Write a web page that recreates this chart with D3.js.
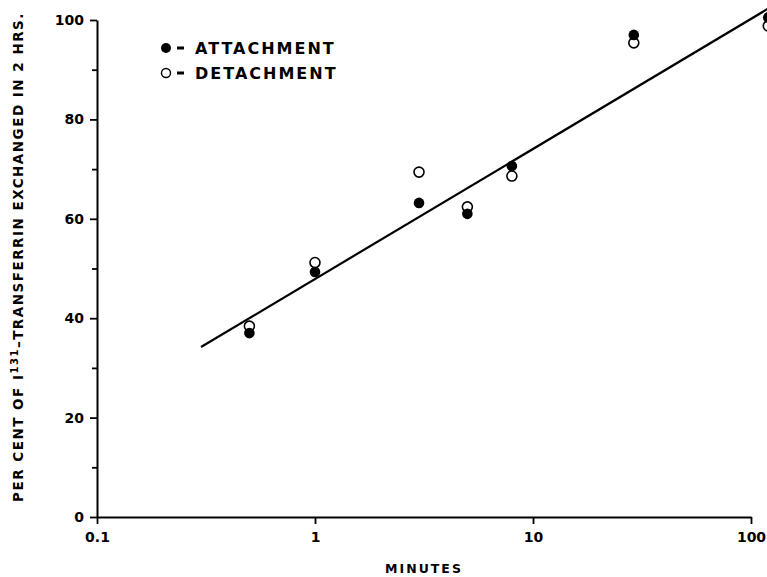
<!DOCTYPE html>
<html><head><meta charset="utf-8">
<script src="https://cdn.jsdelivr.net/npm/d3@7"></script>
<style>body{margin:0;background:#fff}svg{display:block}</style>
</head><body>
<script>
const minutes = [0.5, 1, 3, 5, 8, 29, 120];
const attachment = [37.0, 49.3, 63.2, 61.0, 70.6, 97.0, 100.5];
const detachment = [38.4, 51.2, 69.4, 62.4, 68.6, 95.4, 98.8];
const fitLine = [[0.3, 34.2], [120, 102.3]];
const xTicks = [0.1, 1, 10, 100];
const xTickLabels = ["0.1", "1", "10", "100"];
const yTicks = [0, 20, 40, 60, 80, 100];
const yMinor = [10, 30, 50, 70, 90];

const W = 767, H = 577;
const svg = d3.select("body").append("svg").attr("width", W).attr("height", H);
const x = d3.scaleLog().domain([0.1, 100]).range([97, 751]);
const y = d3.scaleLinear().domain([0, 100]).range([517, 20]);
const font = "'DejaVu Sans', sans-serif";

// axes
svg.append("g").attr("transform", "translate(0,517)")
  .call(d3.axisBottom(x).tickValues(xTicks).tickFormat((d, i) => xTickLabels[i]).tickSize(7).tickSizeOuter(0).tickPadding(8));
svg.append("g").attr("transform", "translate(97,0)")
  .call(d3.axisLeft(y).tickValues(yTicks).tickSize(7).tickSizeOuter(0).tickPadding(6));
svg.append("g").attr("transform", "translate(97,0)")
  .call(d3.axisLeft(y).tickValues(yMinor).tickSize(5).tickFormat(""))
  .select(".domain").remove();
svg.selectAll(".domain").attr("stroke", "#000").attr("stroke-width", 2);
svg.selectAll(".tick line").attr("stroke", "#000").attr("stroke-width", 1.8);
svg.selectAll(".tick text").attr("font-family", font).attr("font-weight", "bold")
  .attr("font-size", 14).attr("fill", "#000");

// fit line
svg.append("path")
  .attr("d", d3.line().x(d => x(d[0])).y(d => y(d[1]))(fitLine))
  .attr("stroke", "#000").attr("stroke-width", 2.2).attr("fill", "none");

// points
svg.append("g").selectAll("circle").data(minutes).join("circle")
  .attr("cx", d => x(d)).attr("cy", (d, i) => y(detachment[i])).attr("r", 5)
  .attr("fill", "#fff").attr("stroke", "#000").attr("stroke-width", 1.6);
svg.append("g").selectAll("circle").data(minutes).join("circle")
  .attr("cx", d => x(d)).attr("cy", (d, i) => y(attachment[i])).attr("r", 5.3)
  .attr("fill", "#000");

// legend
const leg = svg.append("g");
leg.append("circle").attr("cx", 166).attr("cy", 48).attr("r", 5).attr("fill", "#000");
leg.append("circle").attr("cx", 166).attr("cy", 73).attr("r", 4.5).attr("fill", "#fff").attr("stroke", "#000").attr("stroke-width", 1.4);
leg.append("rect").attr("x", 177).attr("y", 46.5).attr("width", 7).attr("height", 3).attr("fill", "#000");
leg.append("rect").attr("x", 177).attr("y", 71.5).attr("width", 7).attr("height", 3).attr("fill", "#000");
leg.append("text").attr("x", 195).attr("y", 54).text("ATTACHMENT");
leg.append("text").attr("x", 195).attr("y", 79).text("DETACHMENT");
leg.selectAll("text").attr("font-family", font).attr("font-weight", "bold")
  .attr("font-size", 16).attr("letter-spacing", 2).attr("fill", "#000");

// axis titles
svg.append("text").attr("x", 424).attr("y", 577 - 4).attr("text-anchor", "middle")
  .attr("font-family", font).attr("font-weight", "bold").attr("font-size", 12.5)
  .attr("letter-spacing", 2).text("MINUTES");

const yt = svg.append("text").attr("transform", "translate(23,257) rotate(-90)")
  .attr("text-anchor", "middle").attr("font-family", font).attr("font-weight", "bold")
  .attr("font-size", 13.5).attr("letter-spacing", 1.5).attr("fill", "#000");
yt.append("tspan").text("PER CENT OF I");
yt.append("tspan").attr("dy", -5).attr("font-size", 10).text("131");
yt.append("tspan").attr("dy", 5).text("\u2013TRANSFERRIN EXCHANGED IN 2 HRS.");
</script>
</body></html>
